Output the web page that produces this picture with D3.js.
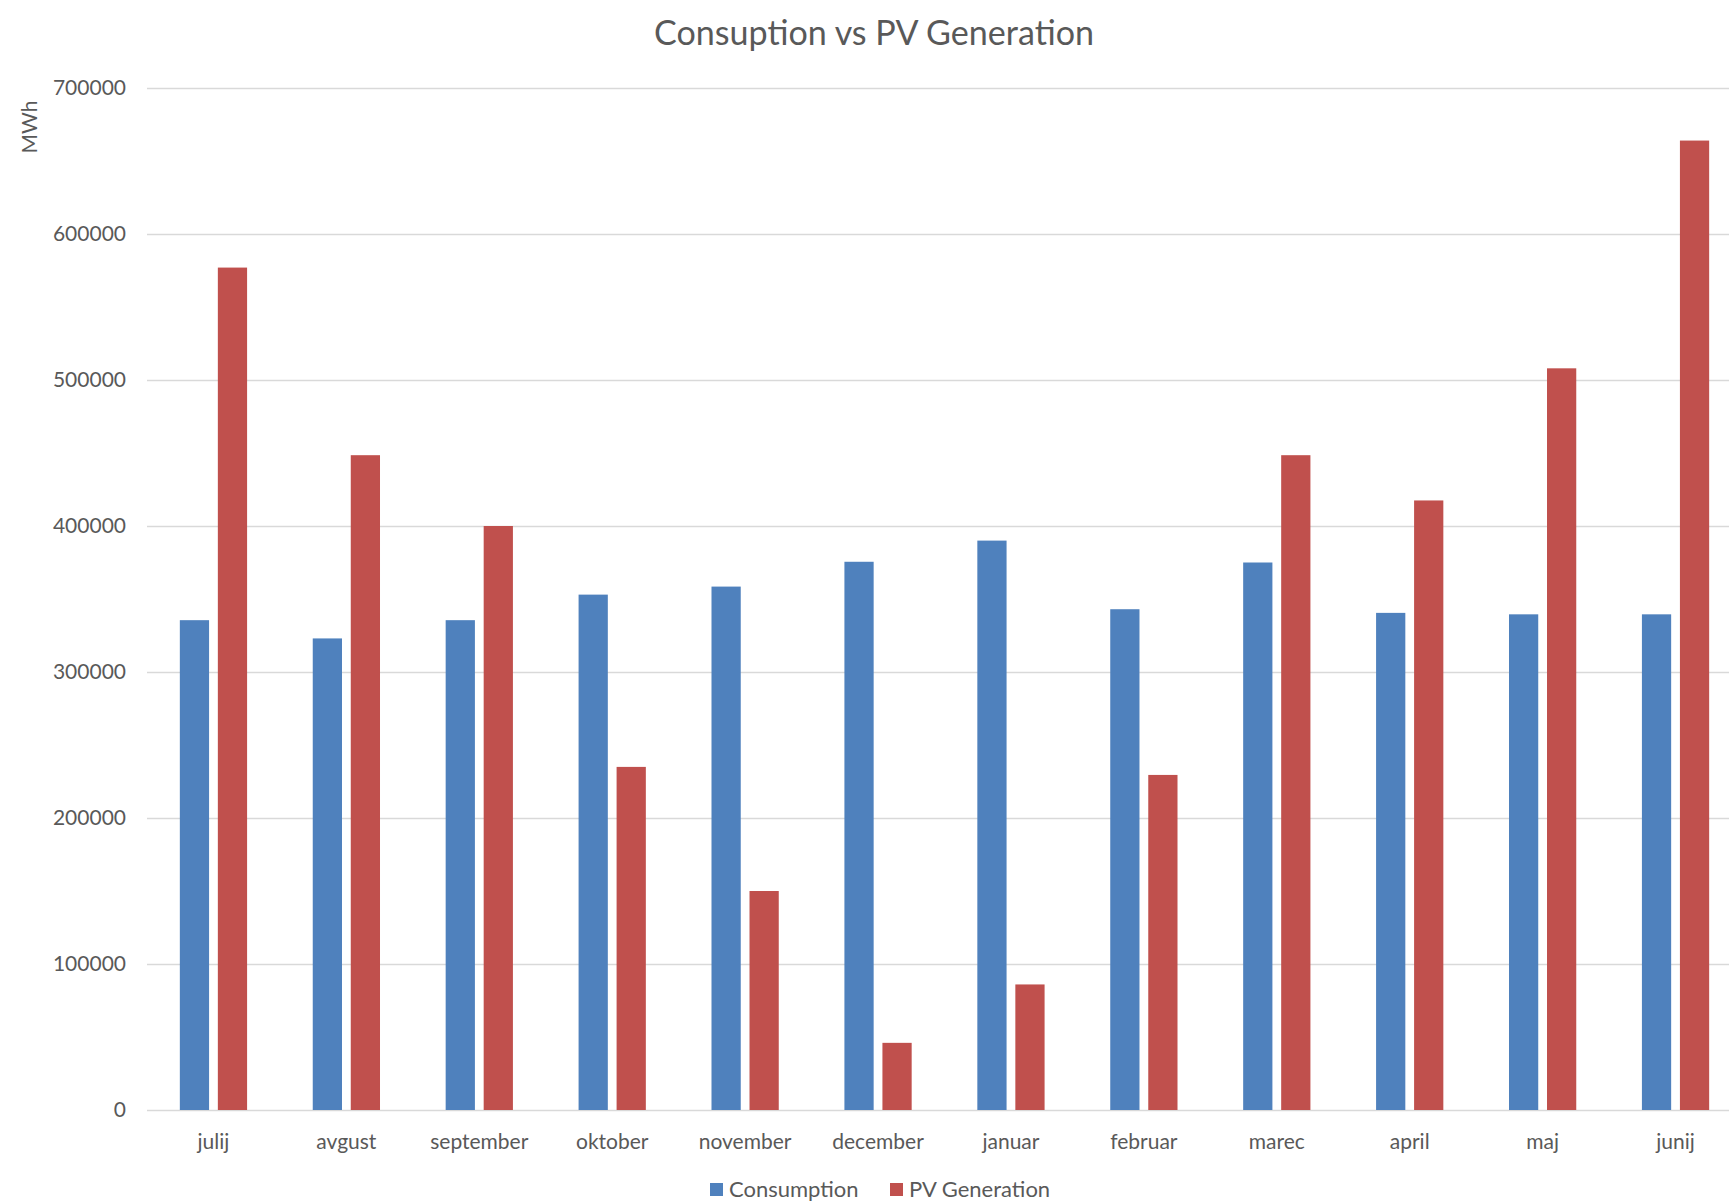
<!DOCTYPE html>
<html>
<head>
<meta charset="utf-8">
<script src="https://cdn.jsdelivr.net/npm/d3@7"></script>
<style>
  html, body { margin: 0; padding: 0; background: #fff; overflow: hidden; }
  svg { display: block; font-family: Lato, "Open Sans", sans-serif; }
</style>
</head>
<body>
<div id="chart"></div>
<script>
// data
const months = ['julij', 'avgust', 'september', 'oktober', 'november', 'december',
  'januar', 'februar', 'marec', 'april', 'maj', 'junij'];
const consumption = [335500, 323000, 335500, 353000, 358500, 375500, 390000, 343000, 375000, 340500, 339500, 339500];
const pvGeneration = [577000, 448500, 400000, 235000, 150000, 46000, 86000, 229500, 448500, 417500, 508000, 664000];
const yTicks = [0, 100000, 200000, 300000, 400000, 500000, 600000, 700000];
const seriesNames = ['Consumption', 'PV Generation'];
const seriesColors = ['#4F81BD', '#C0504D'];

const width = 1729, height = 1204;
const margin = { top: 88, left: 147, bottom: 94 };
const plotRight = 1742; // plot runs past the right edge in the original
const textColor = '#595959';

const svg = d3.select('#chart').append('svg').attr('width', width).attr('height', height);

const x = d3.scaleBand().domain(months).range([margin.left, plotRight]).padding(0);
const y = d3.scaleLinear().domain([0, 700000]).range([height - margin.bottom, margin.top]);

// fit a text element to a given width (approximating Calibri metrics)
function fitText(sel, target) {
  const len = sel.node().getComputedTextLength();
  const fs = parseFloat(sel.attr('font-size'));
  sel.attr('font-size', (fs * target / len).toFixed(2) + 'px');
}

// gridlines
svg.append('g').selectAll('line')
  .data(yTicks)
  .enter().append('line')
  .attr('x1', margin.left).attr('x2', plotRight)
  .attr('y1', d => Math.round(y(d)) + 0.5).attr('y2', d => Math.round(y(d)) + 0.5)
  .attr('stroke', '#d9d9d9').attr('stroke-width', 1.6);

// y labels
svg.append('g').selectAll('text')
  .data(yTicks)
  .enter().append('text')
  .attr('x', 126).attr('y', d => y(d))
  .attr('dy', '0.35em')
  .attr('text-anchor', 'end')
  .attr('fill', textColor)
  .attr('font-size', '21px')
  .text(d => d);

// bars
const bw = x.bandwidth() * 0.22;
const gap = x.bandwidth() * 0.066;
const series = [consumption, pvGeneration];
series.forEach((vals, si) => {
  svg.append('g').selectAll('rect')
    .data(vals)
    .enter().append('rect')
    .attr('x', (d, i) => {
      const c = x(months[i]) + x.bandwidth() / 2;
      return si === 0 ? c - gap / 2 - bw : c + gap / 2;
    })
    .attr('y', d => y(d))
    .attr('width', bw)
    .attr('height', d => y(0) - y(d))
    .attr('fill', seriesColors[si]);
});

// x labels
svg.append('g').selectAll('text')
  .data(months)
  .enter().append('text')
  .attr('x', d => x(d) + x.bandwidth() / 2)
  .attr('y', 1142)
  .attr('dy', '0.35em')
  .attr('text-anchor', 'middle')
  .attr('fill', textColor)
  .attr('font-size', '21px')
  .text(d => d);

// axis title
svg.append('text')
  .attr('transform', 'translate(30,127) rotate(-90)')
  .attr('dy', '0.35em')
  .attr('text-anchor', 'middle')
  .attr('fill', textColor)
  .attr('font-size', '21px')
  .text('MWh');

// chart title
const title = svg.append('text')
  .attr('x', 874).attr('y', 33)
  .attr('dy', '0.35em')
  .attr('text-anchor', 'middle')
  .attr('fill', textColor)
  .attr('font-size', '32px')
  .text('Consuption vs PV Generation');
fitText(title, 440);

// legend (kept just inside the bottom edge)
const legend = svg.append('g');
const legendX = [710, 890];
const legendY = 1189;
seriesNames.forEach((name, i) => {
  legend.append('rect')
    .attr('x', legendX[i]).attr('y', legendY - 6)
    .attr('width', 13).attr('height', 13)
    .attr('fill', seriesColors[i]);
  legend.append('text')
    .attr('x', legendX[i] + 19).attr('y', legendY)
    .attr('dy', '0.35em')
    .attr('fill', textColor)
    .attr('font-size', '22px')
    .text(name);
});
</script>
</body>
</html>
